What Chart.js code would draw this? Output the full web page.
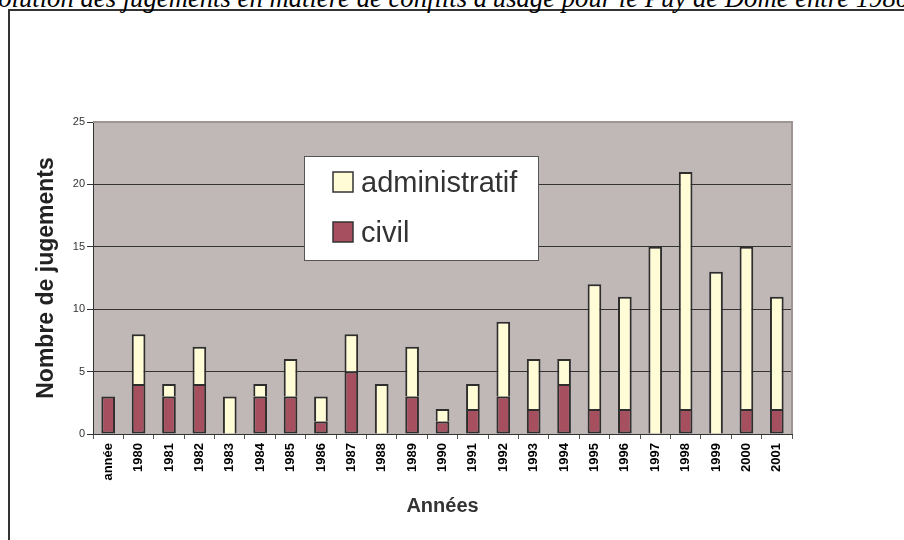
<!DOCTYPE html>
<html>
<head>
<meta charset="utf-8">
<script src="https://cdn.jsdelivr.net/npm/chart.js@4/dist/chart.umd.min.js"></script>
<style>
  html, body { margin: 0; padding: 0; background: #fff; }
  #wrap { position: relative; width: 904px; height: 540px; overflow: hidden; background: #fff; }
  #frame { position: absolute; left: 8px; top: 9px; width: 1100px; height: 800px; border: 2px solid #333; box-sizing: border-box; }
  #title { position: absolute; left: -30px; top: -15px; white-space: nowrap; font-family: 'Liberation Serif', 'Times New Roman', serif; font-style: italic; font-size: 26.7px; line-height: 26.7px; color: #000; }
  #c { position: absolute; left: 0; top: 0; }
</style>
</head>
<body>
<div id="wrap">
  <div id="frame"></div>
  <div id="title">Évolution des jugements en matière de conflits d'usage pour le Puy de Dôme entre 1980 et 2001</div>
  <canvas id="c" width="904" height="540"></canvas>
</div>
<script>
const categories = ['année','1980','1981','1982','1983','1984','1985','1986','1987','1988','1989','1990','1991','1992','1993','1994','1995','1996','1997','1998','1999','2000','2001'];
const civil =          [3,4,3,4,0,3,3,1,5,0,3,1,2,3,2,4,2,2,0,2,0,2,2];
const administratif =  [0,4,1,3,3,1,3,2,3,4,4,1,2,6,4,2,10,9,15,19,13,13,9];
const yTicks = [0,5,10,15,20,25];
const seriesNames = ['civil','administratif'];
const xTitle = 'Années';
const yTitle = 'Nombre de jugements';

const COL_CIVIL = '#A64F5E';
const COL_ADMIN = '#FFFCD6';
const PLOT_BG = '#C0B8B6';
const SANS = "Arial, 'Liberation Sans', sans-serif";

const plotBg = {
  id: 'plotBg',
  beforeDraw(chart) {
    const {ctx, chartArea: a} = chart;
    ctx.save();
    ctx.fillStyle = PLOT_BG;
    ctx.fillRect(a.left, a.top, a.right - a.left, a.bottom - a.top);
    ctx.restore();
  },
  afterDraw(chart) {
    const {ctx, chartArea: a} = chart;
    ctx.save();
    ctx.strokeStyle = '#9E9593';
    ctx.lineWidth = 2;
    ctx.beginPath();
    ctx.moveTo(a.left, a.top);
    ctx.lineTo(a.right, a.top);
    ctx.lineTo(a.right, a.bottom);
    ctx.stroke();
    ctx.restore();
  }
};

const boxLegend = {
  id: 'boxLegend',
  afterDraw(chart) {
    const {ctx} = chart;
    const x0 = 304.5, y0 = 156.5, w = 234, h = 104;
    ctx.save();
    ctx.fillStyle = '#fff';
    ctx.fillRect(x0, y0, w, h);
    ctx.strokeStyle = '#555';
    ctx.lineWidth = 1;
    ctx.strokeRect(x0, y0, w, h);
    const order = [1, 0];
    const ys = [172, 222];
    order.forEach((di, i) => {
      const ds = chart.data.datasets[di];
      ctx.fillStyle = ds.backgroundColor;
      ctx.fillRect(333, ys[i], 20, 20);
      ctx.strokeStyle = '#333';
      ctx.lineWidth = 1.5;
      ctx.strokeRect(333, ys[i], 20, 20);
      ctx.fillStyle = '#333';
      ctx.font = '29px ' + SANS;
      ctx.textBaseline = 'alphabetic';
      ctx.textAlign = 'left';
      ctx.fillText(ds.label, 361, ys[i] + 19.5);
    });
    ctx.restore();
  }
};

new Chart(document.getElementById('c'), {
  type: 'bar',
  data: {
    labels: categories,
    datasets: [
      { label: seriesNames[0], data: civil, backgroundColor: COL_CIVIL, borderColor: '#2E2E2E', borderWidth: 2, borderSkipped: false, barPercentage: 0.45, categoryPercentage: 1 },
      { label: seriesNames[1], data: administratif, backgroundColor: COL_ADMIN, borderColor: '#2E2E2E', borderWidth: { top: 2, left: 2, right: 2, bottom: 0 }, borderSkipped: false, barPercentage: 0.45, categoryPercentage: 1 }
    ]
  },
  options: {
    responsive: false,
    animation: false,
    layout: { padding: { top: 122, right: 112, left: 0, bottom: 0 } },
    plugins: { legend: { display: false }, tooltip: { enabled: false }, title: { display: false } },
    scales: {
      x: {
        stacked: true,
        afterFit(s) { s.height = 106; },
        grid: { offset: true, drawOnChartArea: false, tickLength: 5, color: '#555' },
        border: { display: true, color: '#333', width: 1 },
        ticks: { minRotation: 90, maxRotation: 90, autoSkip: false, padding: 4, color: '#000', font: { family: SANS, size: 13, weight: 'bold' } },
        title: { display: true, text: xTitle, color: '#333', font: { family: SANS, size: 20, weight: 'bold', lineHeight: 1 }, padding: { top: 0, bottom: 24 } }
      },
      y: {
        stacked: true,
        min: 0, max: 25,
        afterFit(s) { s.width = 93; },
        afterBuildTicks(s) { s.ticks = yTicks.map(v => ({ value: v })); },
        grid: { color: (c) => (c.tick && c.tick.value === 25) ? 'rgba(0,0,0,0)' : '#333', tickColor: '#333', tickLength: 6, lineWidth: 1 },
        border: { display: true, color: '#333', width: 1 },
        ticks: { padding: 2, color: '#333', font: { family: SANS, size: 11 } },
        title: { display: true, text: yTitle, color: '#222', font: { family: SANS, size: 23, weight: 'bold', lineHeight: 1 }, padding: { top: 35, bottom: 0 } }
      }
    }
  },
  plugins: [plotBg, boxLegend]
});
</script>
</body>
</html>
